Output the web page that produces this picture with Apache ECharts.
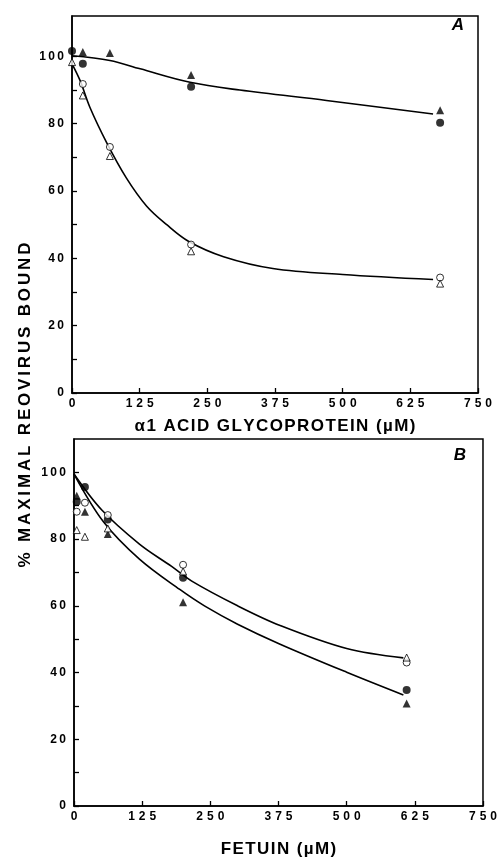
<!DOCTYPE html>
<html>
<head>
<meta charset="utf-8">
<script src="https://cdn.jsdelivr.net/npm/echarts@6/dist/echarts.min.js"></script>
<style>
  html, body { margin: 0; padding: 0; background: #fff; }
  #chart { width: 500px; height: 859px; }
</style>
</head>
<body>
<div id="chart"></div>
<script>
// axis ticks
const xTicks = [0, 125, 250, 375, 500, 625, 750]
const yTicks = [0, 10, 20, 30, 40, 50, 60, 70, 80, 90, 100]
const yLabels = [0, 20, 40, 60, 80, 100]

// panel A: alpha1 acid glycoprotein (uM, % bound)
const aFilledCircle = [[0, 101.6], [20, 97.8], [220, 91], [680, 80.3]]
const aFilledTriangle = [[20, 101.3], [70, 101], [220, 94.5], [680, 84]]
const aOpenCircle = [[20, 91.8], [70, 73.1], [220, 44.1], [680, 34.3]]
const aOpenTriangle = [[0, 98.3], [20, 88.4], [70, 70.4], [220, 42.1], [680, 32.5]]
const aCurveUpper = [[0, 100.2], [70, 98.8], [126, 96.3], [218, 92.3], [310, 90], [470, 86.9], [667, 82.9]]
const aCurveLower = [[0, 97.8], [15, 92.8], [33, 84.9], [64, 74.4], [100, 64], [138, 55.5], [175, 50], [215, 45.1], [280, 40.5], [371, 37], [500, 35.2], [667, 33.7]]

// panel B: fetuin
const bFilledCircle = [[5, 91.2], [20, 95.6], [62, 85.9], [200, 68.4], [610, 34.8]]
const bFilledTriangle = [[5, 93], [20, 88.2], [62, 81.5], [200, 61.1], [610, 30.7]]
const bOpenCircle = [[5, 88.2], [20, 90.9], [62, 87.2], [200, 72.3], [610, 43]]
const bOpenTriangle = [[5, 82.7], [20, 80.7], [62, 83.2], [200, 70.3], [610, 44.5]]
const bCurveUpper = [[0, 99.5], [51, 88.7], [120, 78.5], [179, 71.8], [216, 67.4], [300, 60], [378, 54.1], [500, 47.2], [604, 44.4]]
const bCurveLower = [[0, 99.5], [54, 85.2], [120, 74], [194, 64.9], [240, 59.9], [300, 54.5], [378, 48.5], [500, 40.1], [604, 33.3]]

const FONT = 'Liberation Sans'
const spaced = (s, sp) => String(s).split('').join(sp)

const chart = echarts.init(document.getElementById('chart'), null, { renderer: 'canvas' })

const makeX = (gi, name, gap) => ({
  gridIndex: gi,
  type: 'value',
  min: 0,
  max: 750,
  interval: 125,
  name: name,
  nameLocation: 'middle',
  nameGap: gap,
  nameTextStyle: { color: '#000', fontFamily: FONT, fontWeight: 'bold', fontSize: 17 },
  axisLine: { lineStyle: { color: '#000', width: 1.5 } },
  axisTick: { inside: true, length: 5, lineStyle: { color: '#000', width: 1.3 }, customValues: xTicks },
  axisLabel: {
    color: '#000', fontFamily: FONT, fontWeight: 'bold', fontSize: 12, margin: 5,
    customValues: xTicks,
    formatter: v => spaced(v, '\u2004')
  },
  splitLine: { show: false }
})

const makeY = (gi, max) => ({
  gridIndex: gi,
  type: 'value',
  min: 0,
  max: max,
  interval: 20,
  axisLine: { lineStyle: { color: '#000', width: 1.5 } },
  axisTick: { inside: true, length: 5, lineStyle: { color: '#000', width: 1.3 }, customValues: yTicks },
  axisLabel: {
    color: '#000', fontFamily: FONT, fontWeight: 'bold', fontSize: 12, margin: 8,
    customValues: yLabels,
    formatter: v => (v % 20 === 0 ? spaced(v, '\u2009') : '')
  },
  splitLine: { show: false }
})

const marker = (gi, data, symbol, filled, size) => ({
  type: 'scatter',
  xAxisIndex: gi,
  yAxisIndex: gi,
  data: data,
  symbol: symbol,
  symbolSize: size,
  z: 3,
  itemStyle: filled
    ? { color: '#000' }
    : { color: '#fff', borderColor: '#000', borderWidth: 1 }
})

const curve = (gi, data) => ({
  type: 'line',
  xAxisIndex: gi,
  yAxisIndex: gi,
  data: data,
  smooth: 0.35,
  showSymbol: false,
  z: 2,
  lineStyle: { color: '#000', width: 1.6 }
})

const option = {
  backgroundColor: '#fff',
  animation: false,
  grid: [
    { left: 72, right: 22, top: 16, height: 377, show: true, borderColor: '#000', borderWidth: 1.5 },
    { left: 74, right: 17, top: 439, height: 369, show: true, borderColor: '#000', borderWidth: 1.5 }
  ],
  xAxis: [
    makeX(0, spaced('α1 ACID GLYCOPROTEIN (µM)', '\u200A'), 25),
    makeX(1, spaced('FETUIN (µM)', '\u200A'), 35)
  ],
  yAxis: [makeY(0, 112), makeY(1, 110)],
  graphic: [
    {
      type: 'text', x: 25, y: 405, rotation: Math.PI / 2,
      style: {
        text: spaced('% MAXIMAL REOVIRUS BOUND', '\u2006'),
        fill: '#000', font: 'bold 17px "Liberation Sans"',
        textAlign: 'center', textVerticalAlign: 'middle'
      }
    },
    {
      type: 'text', x: 458, y: 25,
      style: { text: 'A', fill: '#000', font: 'italic bold 17px "Liberation Sans"', textAlign: 'center', textVerticalAlign: 'middle' }
    },
    {
      type: 'text', x: 460, y: 455,
      style: { text: 'B', fill: '#000', font: 'italic bold 17px "Liberation Sans"', textAlign: 'center', textVerticalAlign: 'middle' }
    }
  ],
  series: [
    curve(0, aCurveUpper),
    curve(0, aCurveLower),
    marker(0, aFilledCircle, 'circle', true, 8),
    marker(0, aFilledTriangle, 'triangle', true, 8),
    marker(0, aOpenCircle, 'circle', false, 7),
    marker(0, aOpenTriangle, 'triangle', false, 7),
    curve(1, bCurveUpper),
    curve(1, bCurveLower),
    marker(1, bFilledCircle, 'circle', true, 8),
    marker(1, bFilledTriangle, 'triangle', true, 8),
    marker(1, bOpenCircle, 'circle', false, 7),
    marker(1, bOpenTriangle, 'triangle', false, 7)
  ]
}

chart.setOption(option)
</script>
</body>
</html>
